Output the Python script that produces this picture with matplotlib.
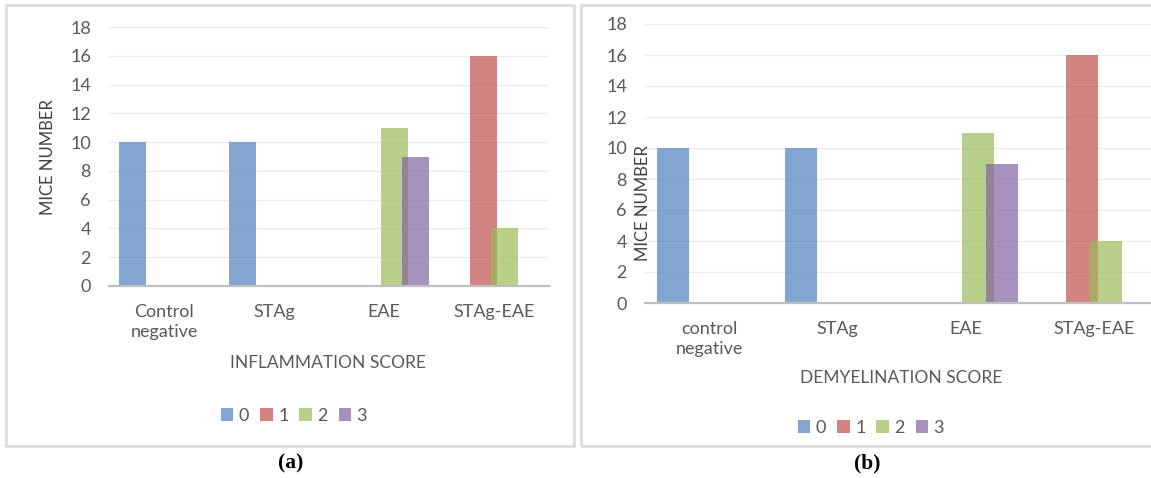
import matplotlib
matplotlib.use("Agg")
import matplotlib.pyplot as plt
from matplotlib.patches import Rectangle
import numpy as np

plt.rcParams['font.family'] = ['Lato', 'DejaVu Sans']

# data
groups_a = ["Control\nnegative", "STAg", "EAE", "STAg-EAE"]
groups_b = ["control\nnegative", "STAg", "EAE", "STAg-EAE"]
scores = ["0", "1", "2", "3"]
colors = ["#4F81BD", "#C0504D", "#9BBB59", "#8064A2"]

infl_0 = [10, 10, 0, 0]
infl_1 = [0, 0, 0, 16]
infl_2 = [0, 0, 11, 4]
infl_3 = [0, 0, 9, 0]

demy_0 = [10, 10, 0, 0]
demy_1 = [0, 0, 0, 16]
demy_2 = [0, 0, 11, 4]
demy_3 = [0, 0, 9, 0]

W, H = 1151, 478
fig = plt.figure(figsize=(W / 100, H / 100), dpi=100)
grey = "#595959"


def px(x0, y0, x1, y1):
    # pixel box (top-left origin) -> figure fraction rect
    return [x0 / W, 1 - y1 / H, (x1 - x0) / W, (y1 - y0) / H]


def panel(rect, groups, series, xtitle, xt_pos, leg_pos, ylab_pos, cap, cap_x, box):
    # panel frame
    bx0, by0, bx1, by1 = box
    fig.patches.append(Rectangle((bx0 / W, 1 - by1 / H), (bx1 - bx0) / W, (by1 - by0) / H,
                                 transform=fig.transFigure, fill=False,
                                 edgecolor="#D9D9D9", linewidth=1.8, zorder=0))
    ax = fig.add_axes(rect)
    x = np.arange(len(groups))
    step, width = 0.19, 0.25
    for i, vals in enumerate(series):
        ax.bar(x + (i - 1.5) * step, vals, width, color=colors[i], alpha=0.7,
               linewidth=0, label=scores[i], zorder=3 + i)
    ax.set_xlim(-0.5, len(groups) - 0.5)
    ax.set_ylim(0, 18)
    ax.set_yticks(range(0, 19, 2))
    ax.set_xticks(x)
    ax.set_xticklabels(groups, linespacing=1.3)
    ax.grid(axis="y", color="#EDEDED", linewidth=1, zorder=0)
    for s in ["top", "right", "left"]:
        ax.spines[s].set_visible(False)
    ax.spines["bottom"].set_color("#BFBFBF")
    ax.spines["bottom"].set_linewidth(1.6)
    ax.spines["bottom"].set_zorder(10)
    ax.tick_params(axis="both", length=0, labelsize=13, labelcolor=grey)
    ax.tick_params(axis="y", pad=13)
    ax.tick_params(axis="x", pad=13)
    fig.text(xt_pos[0] / W, 1 - xt_pos[1] / H, xtitle, ha="center", va="center",
             fontsize=12.5, color=grey)
    fig.text(ylab_pos[0] / W, 1 - ylab_pos[1] / H, "MICE NUMBER", ha="center",
             va="center", rotation=90, fontsize=12, color="#404040")
    h, l = ax.get_legend_handles_labels()
    fig.legend(h, l, loc="center", bbox_to_anchor=(leg_pos[0] / W, 1 - leg_pos[1] / H),
               ncol=4, frameon=False, fontsize=13, handlelength=0.7, handleheight=0.7,
               handletextpad=0.3, columnspacing=0.6, labelcolor=grey)
    fig.text(cap_x / W, 1 - 463 / H, cap, ha="center", va="center",
             fontsize=15.5, fontweight="bold", family="Liberation Serif")
    return ax


panel(px(109, 27, 549, 286), groups_a, [infl_0, infl_1, infl_2, infl_3],
      "INFLAMMATION SCORE", (328, 363), (294, 416), (48, 157), "(a)", 291,
      (6, 5, 574, 446))
panel(px(645, 24, 1158, 303), groups_b, [demy_0, demy_1, demy_2, demy_3],
      "DEMYELINATION SCORE", (901, 378), (871, 428), (643, 203), "(b)", 867,
      (581, 5, 1160, 446))

fig.savefig("out.png", dpi=100)
